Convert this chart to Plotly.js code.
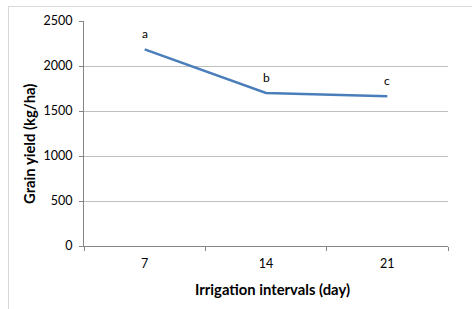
<!DOCTYPE html>
<html><head><meta charset="utf-8">
<script src="https://cdn.plot.ly/plotly-3.0.1.min.js"></script>
<style>
html,body{margin:0;padding:0;background:#fff;}
#frame{position:absolute;left:8px;top:6px;width:464px;height:303px;border-left:1px solid #d9d9d9;border-top:1px solid #d9d9d9;}
#chart{position:absolute;left:0;top:0;width:472px;height:309px;}
</style></head>
<body>
<div id="frame"></div>
<div id="chart"></div>
<script>
var intervals = ["7", "14", "21"];
var grainYield = [2185, 1700, 1665];
var letters = ["a", "b", "c"];
var yTicks = [0, 500, 1000, 1500, 2000, 2500];
var xTitle = "Irrigation intervals (day)";
var yTitle = "Grain yield (kg/ha)";

var FONT = "Lato, 'Open Sans', sans-serif";

var trace = {
  type: "scatter", mode: "lines",
  x: intervals, y: grainYield,
  line: {color: "#4a7ebb", width: 2.5},
  hoverinfo: "none"
};

var annotations = intervals.map(function(c, i){
  return {x: i, y: grainYield[i], xref: "x", yref: "y", text: letters[i],
    showarrow: false, yshift: 16, font: {family: FONT, size: 12, color: "#000"}};
});
annotations.push({xref: "paper", yref: "paper", x: 0.519, y: -0.1925, text: "<b>" + xTitle + "</b>",
  showarrow: false, xanchor: "center", yanchor: "middle", font: {family: FONT, size: 14.8, color: "#000"}});
annotations.push({xref: "paper", yref: "paper", x: -0.151, y: 0.4535, text: "<b>" + yTitle + "</b>",
  showarrow: false, textangle: -90, xanchor: "center", yanchor: "middle", font: {family: FONT, size: 14.8, color: "#000"}});

var layout = {
  width: 472, height: 309,
  margin: {l: 84, r: 24, t: 20.5, b: 62.5},
  paper_bgcolor: "rgba(0,0,0,0)", plot_bgcolor: "rgba(0,0,0,0)",
  showlegend: false,
  font: {family: FONT, size: 12, color: "#000"},
  xaxis: {
    type: "category", range: [-0.5, 2.5],
    tickson: "boundaries", ticks: "outside", ticklen: 4, tickcolor: "#868686",
    showline: true, linecolor: "#868686", linewidth: 1,
    showgrid: false, zeroline: false, ticklabelstandoff: 6,
    tickfont: {family: FONT, size: 12.5, color: "#000"}
  },
  yaxis: {
    range: [0, 2500], tickvals: yTicks, ticktext: yTicks.map(String),
    ticks: "outside", ticklen: 4, tickcolor: "#868686",
    showline: true, linecolor: "#868686", linewidth: 1,
    showgrid: true, gridcolor: "#bfbfbf", gridwidth: 1, zeroline: false,
    ticklabelstandoff: 4,
    tickfont: {family: FONT, size: 12.5, color: "#000"}
  },
  annotations: annotations
};

Plotly.newPlot("chart", [trace], layout, {staticPlot: true, displayModeBar: false});
</script>
</body></html>
